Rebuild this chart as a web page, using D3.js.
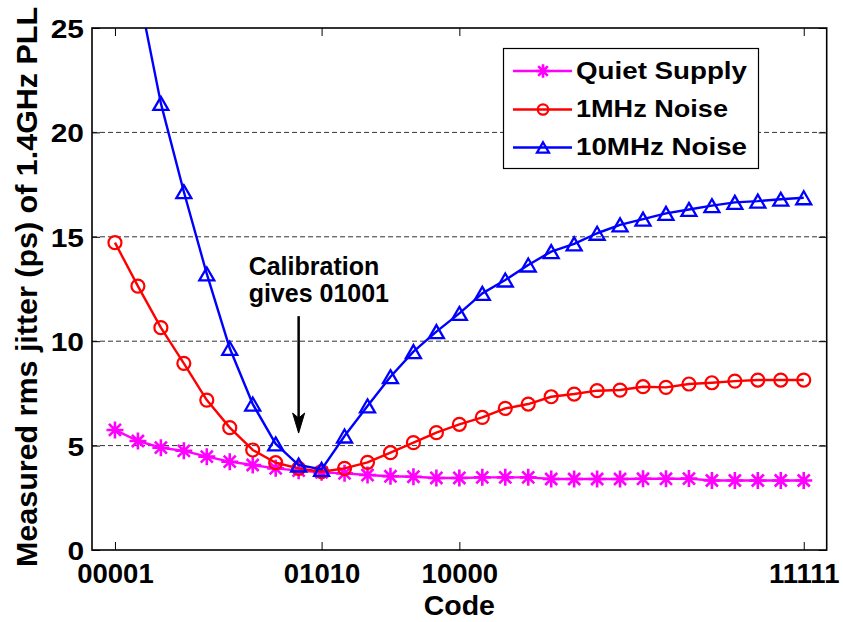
<!DOCTYPE html>
<html>
<head>
<meta charset="utf-8">
<script src="https://cdn.jsdelivr.net/npm/d3@7"></script>
<style>
  html, body { margin: 0; padding: 0; background: #fff; }
  svg { display: block; }
  text { font-family: "Liberation Sans", Arial, Helvetica, sans-serif; font-weight: bold; fill: #000; }
</style>
</head>
<body>
<svg id="chart" width="843" height="622"></svg>
<script>
// ---- data ----
const codes = [1,2,3,4,5,6,7,8,9,10,11,12,13,14,15,16,17,18,19,20,21,22,23,24,25,26,27,28,29,30,31];
const quietSupply = [5.75,5.22,4.9,4.75,4.47,4.23,4.07,3.91,3.8,3.72,3.67,3.59,3.53,3.51,3.45,3.45,3.48,3.48,3.48,3.4,3.4,3.4,3.4,3.41,3.41,3.42,3.33,3.33,3.33,3.33,3.33];
const noise1MHz = [14.72,12.64,10.65,8.94,7.18,5.86,4.79,4.18,3.91,3.75,3.91,4.2,4.66,5.14,5.62,6.02,6.35,6.78,6.99,7.34,7.47,7.63,7.66,7.82,7.79,7.95,8.01,8.09,8.14,8.14,8.14];
const noise10MHz = [33,26.9,21.39,17.16,13.22,9.66,6.99,5.08,4.07,3.86,5.46,6.9,8.3,9.5,10.46,11.33,12.29,12.93,13.65,14.29,14.66,15.17,15.57,15.85,16.12,16.31,16.49,16.65,16.71,16.8,16.87];
const seriesNames = ["Quiet Supply", "1MHz Noise", "10MHz Noise"];
const seriesColors = ["#ff00ff", "#ff0000", "#0000ff"];
const seriesMarkers = ["star", "circle", "triangle"];
const xTickValues = [1, 10, 16, 31];
const xTickLabels = ["00001", "01010", "10000", "11111"];
const yTickValues = [0, 5, 10, 15, 20, 25];
const gridValues = [5, 10, 15, 20];
const xTitle = "Code";
const yTitle = "Measured rms jitter (ps) of 1.4GHz PLL";
const annotationLines = ["Calibration", "gives 01001"];
const calibratedCode = 9;

// ---- layout ----
const L = 92, R = 826.7, T = 28, B = 550;
const svg = d3.select("#chart");
const x = d3.scaleLinear().domain([0, 32]).range([L, R]);
const y = d3.scaleLinear().domain([0, 25]).range([B, T]);

svg.append("defs").append("clipPath").attr("id", "plotClip")
  .append("rect").attr("x", L).attr("y", T).attr("width", R - L).attr("height", B - T);

// gridlines
svg.append("g").selectAll("line").data(gridValues).join("line")
  .attr("x1", L).attr("x2", R)
  .attr("y1", d => y(d)).attr("y2", d => y(d))
  .attr("stroke", "#333").attr("stroke-width", 1)
  .attr("stroke-dasharray", "5,3");

// axes (inward ticks)
const gx = svg.append("g").attr("transform", `translate(0,${B})`)
  .call(d3.axisBottom(x).tickValues(xTickValues).tickFormat((d, i) => xTickLabels[i])
    .tickSizeInner(-8).tickSizeOuter(0));
gx.select(".domain").remove();
gx.selectAll("line").attr("stroke", "#000").attr("stroke-width", 1);
gx.selectAll("text").attr("y", 32.5).attr("dy", 0)
  .style("font-size", "27.5px").style("font-family", "Liberation Sans, Arial, sans-serif").style("font-weight", "bold");

const gxt = svg.append("g").attr("transform", `translate(0,${T})`)
  .call(d3.axisTop(x).tickValues(xTickValues).tickFormat("").tickSizeInner(-8).tickSizeOuter(0));
gxt.select(".domain").remove();
gxt.selectAll("line").attr("stroke", "#000");

const gy = svg.append("g").attr("transform", `translate(${L},0)`)
  .call(d3.axisLeft(y).tickValues(yTickValues).tickFormat(d3.format("d"))
    .tickSizeInner(-8).tickSizeOuter(0));
gy.select(".domain").remove();
gy.selectAll("line").attr("stroke", "#000");
gy.selectAll("text")
  .attr("x", 0).attr("dy", 0)
  .attr("transform", "translate(-8,9.5) scale(1.15,1)")
  .attr("text-anchor", "end")
  .style("font-size", "26px").style("font-family", "Liberation Sans, Arial, sans-serif").style("font-weight", "bold");

const gyr = svg.append("g").attr("transform", `translate(${R},0)`)
  .call(d3.axisRight(y).tickValues(yTickValues).tickFormat("").tickSizeInner(-8).tickSizeOuter(0));
gyr.select(".domain").remove();
gyr.selectAll("line").attr("stroke", "#000");

// markers
function markerPath(type, s) {
  if (type === "triangle") {
    const w = 7.5 * s, h = 6.5 * s;
    return `M0,${-h}L${w},${h}L${-w},${h}Z`;
  }
  const a = 8.5 * s, b = a * 0.7071;
  return `M${-a},0L${a},0M0,${-a}L0,${a}M${-b},${-b}L${b},${b}M${-b},${b}L${b},${-b}`;
}
function drawMarker(g, type, color, s) {
  if (type === "circle") {
    g.append("circle").attr("r", 6.5 * s).attr("fill", "none")
      .attr("stroke", color).attr("stroke-width", 2.2);
  } else {
    g.append("path").attr("d", markerPath(type, s)).attr("fill", "none")
      .attr("stroke", color).attr("stroke-width", type === "star" ? 2.6 : 2.3)
      .attr("stroke-linejoin", "miter");
  }
}

const allSeries = [quietSupply, noise1MHz, noise10MHz];
const plot = svg.append("g").attr("clip-path", "url(#plotClip)");
const line = d3.line().x(d => x(d[0])).y(d => y(d[1]));

allSeries.forEach((vals, si) => {
  const pts = codes.map((c, i) => [c, vals[i]]);
  const g = plot.append("g");
  g.append("path").datum(pts).attr("d", line)
    .attr("fill", "none").attr("stroke", seriesColors[si]).attr("stroke-width", 2.4)
    .attr("stroke-linejoin", "round");
  g.selectAll("g.m").data(pts).join("g").attr("class", "m")
    .attr("transform", d => `translate(${x(d[0])},${y(d[1])})`)
    .each(function () { drawMarker(d3.select(this), seriesMarkers[si], seriesColors[si], 1); });
});

// frame
svg.append("rect").attr("x", L).attr("y", T).attr("width", R - L).attr("height", B - T)
  .attr("fill", "none").attr("stroke", "#000").attr("stroke-width", 1.6);

// axis titles
svg.append("text").attr("x", x(16)).attr("y", 614.5).attr("text-anchor", "middle")
  .style("font-size", "28.5px").text(xTitle);
svg.append("text").attr("transform", `translate(37,${(T + B) / 2 - 2}) rotate(-90)`)
  .attr("text-anchor", "middle")
  .attr("textLength", 560).attr("lengthAdjust", "spacingAndGlyphs")
  .style("font-size", "29px").text(yTitle);

// annotation
const ax = x(calibratedCode);
svg.append("g").selectAll("text").data(annotationLines).join("text")
  .attr("x", ax - 50).attr("y", (d, i) => 275 + i * 26.5)
  .style("font-size", "25px").text(d => d);
const yStart = y(11.2), yTip = y(5.6);
svg.append("line").attr("x1", ax).attr("x2", ax).attr("y1", yStart).attr("y2", yTip - 14)
  .attr("stroke", "#000").attr("stroke-width", 2.5);
svg.append("path")
  .attr("d", `M${ax},${yTip}L${ax - 6},${yTip - 20}L${ax},${yTip - 15}L${ax + 6},${yTip - 20}Z`)
  .attr("fill", "#000").attr("stroke", "#000").attr("stroke-width", 1);

// legend
const lg = svg.append("g");
lg.append("rect").attr("x", 503.5).attr("y", 48.5).attr("width", 255).attr("height", 120)
  .attr("fill", "#fff").attr("stroke", "#000").attr("stroke-width", 1.2);
const legendRowsY = [71, 109.5, 147.5];
const legendTextLen = [171, 152, 171];
seriesNames.forEach((name, i) => {
  const ry = legendRowsY[i];
  lg.append("line").attr("x1", 513).attr("x2", 572).attr("y1", ry).attr("y2", ry)
    .attr("stroke", seriesColors[i]).attr("stroke-width", 2.4);
  const mg = lg.append("g").attr("transform", `translate(543,${ry})`);
  drawMarker(mg, seriesMarkers[i], seriesColors[i], 0.8);
  lg.append("text").attr("x", 576).attr("y", ry + 7.5)
    .attr("textLength", legendTextLen[i]).attr("lengthAdjust", "spacingAndGlyphs")
    .style("font-size", "24px").text(name);
});
</script>
</body>
</html>
